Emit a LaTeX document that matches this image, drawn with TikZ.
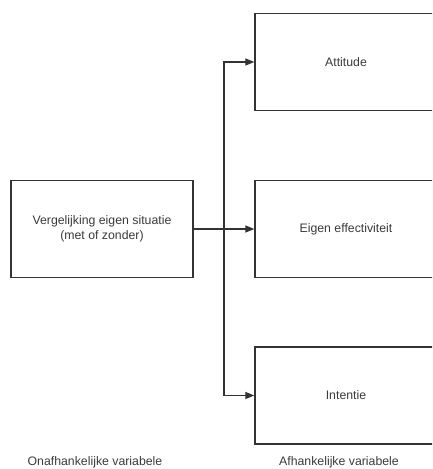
\documentclass[tikz,border=0pt]{standalone}
\usepackage{fontspec}
\setmainfont{Liberation Sans}
\usetikzlibrary{arrows.meta}
\definecolor{ink}{HTML}{333333}
\definecolor{txt}{HTML}{3A3A3A}
\begin{document}
\begin{tikzpicture}[x=1pt,y=-1pt,
  box/.style={draw=ink,line width=1.3pt,minimum width=182pt,minimum height=97pt,inner sep=0pt,text=txt,font=\fontsize{12.3}{15}\selectfont,align=center},
  conn/.style={draw=ink,line width=1.2pt},
  tip/.style={-{Triangle[length=9pt,width=7pt]}},
  lbl/.style={text=txt,font=\fontsize{12.3}{14}\selectfont,inner sep=0pt}]
\useasboundingbox (0,0) rectangle (432,469);
\clip (0,0) rectangle (432,469);
\node[box] (src) at (102,229) {Vergelijking eigen situatie\\(met of zonder)};
\node[box] (att) at (346,62) {Attitude};
\node[box] (eff) at (346,229) {Eigen effectiviteit};
\node[box] (int) at (346,395.5) {Intentie};
\coordinate (jn) at (224,229);
\draw[conn,tip] (src.east) -- (eff.west);
\draw[conn,tip] (jn) |- (att.west);
\draw[conn,tip] (jn) |- (int.west);
\node[lbl] (l1) at (95,462) {Onafhankelijke variabele};
\node[lbl] (l2) at (339,462) {Afhankelijke variabele};
\end{tikzpicture}
\end{document}
